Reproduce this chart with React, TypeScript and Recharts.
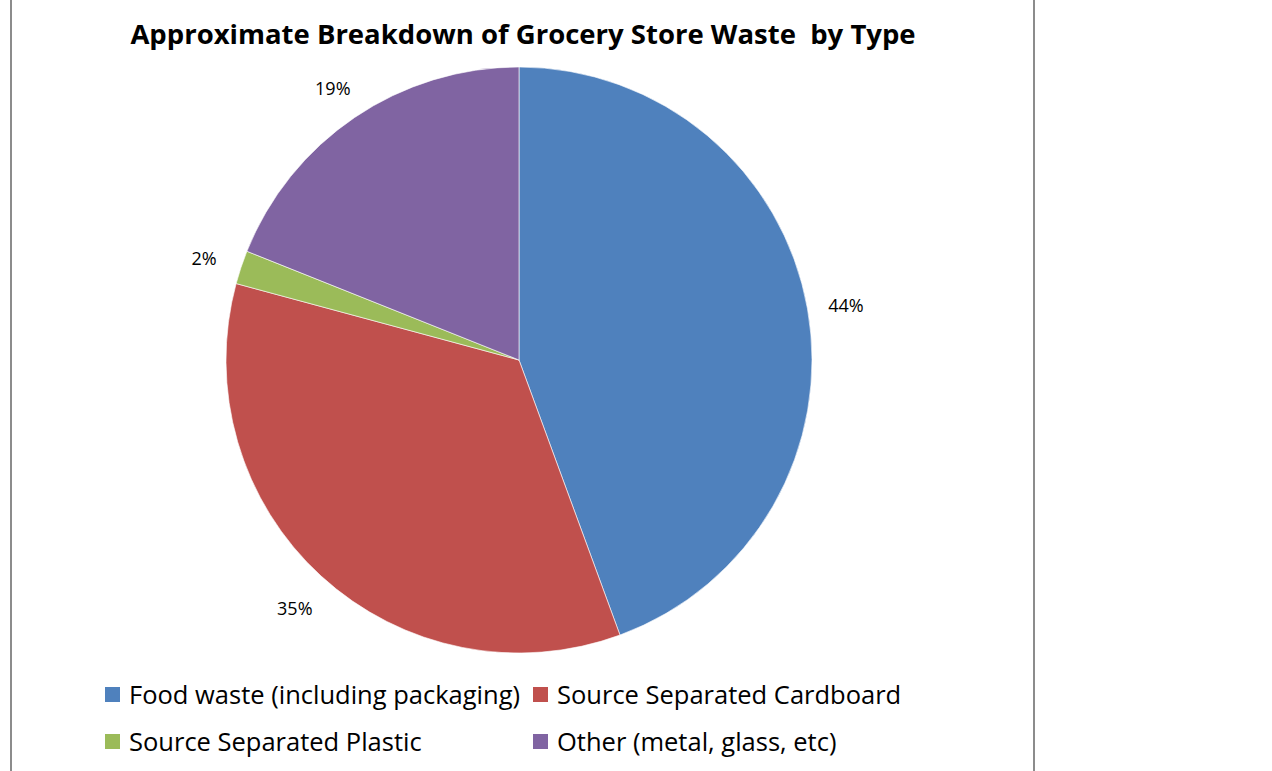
import React from 'react';
import { PieChart, Pie, Cell, Legend } from 'recharts';

const categories = [
  'Food waste (including packaging)',
  'Source Separated Cardboard',
  'Source Separated Plastic',
  'Other (metal, glass, etc)',
];
const shares = [44.4, 34.8, 1.85, 18.95];
const colors = ['#4F81BD', '#C0504D', '#9BBB59', '#8064A2'];
const titleText = 'Approximate Breakdown of Grocery Store Waste  by Type';

const data = categories.map((name, i) => ({ name, value: shares[i] }));
const total = shares.reduce((a, b) => a + b, 0);

const FONT = '"Open Sans", "Noto Sans", sans-serif';
const RAD = Math.PI / 180;

const renderLabel = (props: any) => {
  const { cx, cy, midAngle, outerRadius, value } = props;
  const r = outerRadius + 39;
  const x = cx + r * Math.cos(-midAngle * RAD);
  const y = cy + r * Math.sin(-midAngle * RAD) + 3;
  return (
    <text x={x} y={y} textAnchor="middle" dominantBaseline="central" fill="#000" fontSize={18} fontFamily={FONT}>
      {`${Math.round((value / total) * 100)}%`}
    </text>
  );
};

const renderLegend = () => {
  const colX = [105, 533];
  const rowY = [694, 741];
  return (
    <div style={{ position: 'absolute', left: 0, top: 0, width: 1272, height: 771, pointerEvents: 'none' }}>
      {categories.map((name, i) => {
        const col = i % 2;
        const row = Math.floor(i / 2);
        return (
          <div
            key={name}
            style={{
              position: 'absolute',
              left: colX[col],
              top: rowY[row] - 18,
              height: 36,
              display: 'flex',
              alignItems: 'center',
              whiteSpace: 'nowrap',
              fontFamily: FONT,
              fontSize: 25.5,
              color: '#000',
            }}
          >
            <span style={{ display: 'inline-block', width: 15, height: 15, background: colors[i], marginRight: 9 }} />
            <span>{name}</span>
          </div>
        );
      })}
    </div>
  );
};

export default function App() {
  return (
    <div style={{ position: 'absolute', left: 0, top: 0, width: 1272, height: 771, background: '#fff', overflow: 'hidden' }}>
      <div style={{ position: 'absolute', left: 10, top: 0, width: 2, height: 771, background: '#8c8c8c' }} />
      <div style={{ position: 'absolute', left: 1033, top: 0, width: 2, height: 771, background: '#8c8c8c' }} />
      <div
        style={{
          position: 'absolute',
          left: 0,
          top: 15,
          width: 1046,
          textAlign: 'center',
          fontFamily: FONT,
          fontWeight: 700,
          fontSize: 27.5,
          lineHeight: '38px',
          color: '#000',
          whiteSpace: 'pre',
        }}
      >
        {titleText}
      </div>
      <div style={{ position: 'absolute', left: 0, top: 0 }}>
        <PieChart width={1272} height={771} margin={{ top: 0, right: 0, bottom: 0, left: 0 }}>
          <Pie
            data={data}
            dataKey="value"
            nameKey="name"
            cx={519}
            cy={360}
            outerRadius={293}
            startAngle={90}
            endAngle={-270}
            stroke="#ffffff"
            strokeWidth={0.6}
            label={renderLabel}
            labelLine={false}
            isAnimationActive={false}
          >
            {data.map((d, i) => (
              <Cell key={d.name} fill={colors[i]} />
            ))}
          </Pie>
          <Legend content={renderLegend} wrapperStyle={{ left: 0, top: 0, width: 1272, height: 771 }} />
        </PieChart>
      </div>
    </div>
  );
}
